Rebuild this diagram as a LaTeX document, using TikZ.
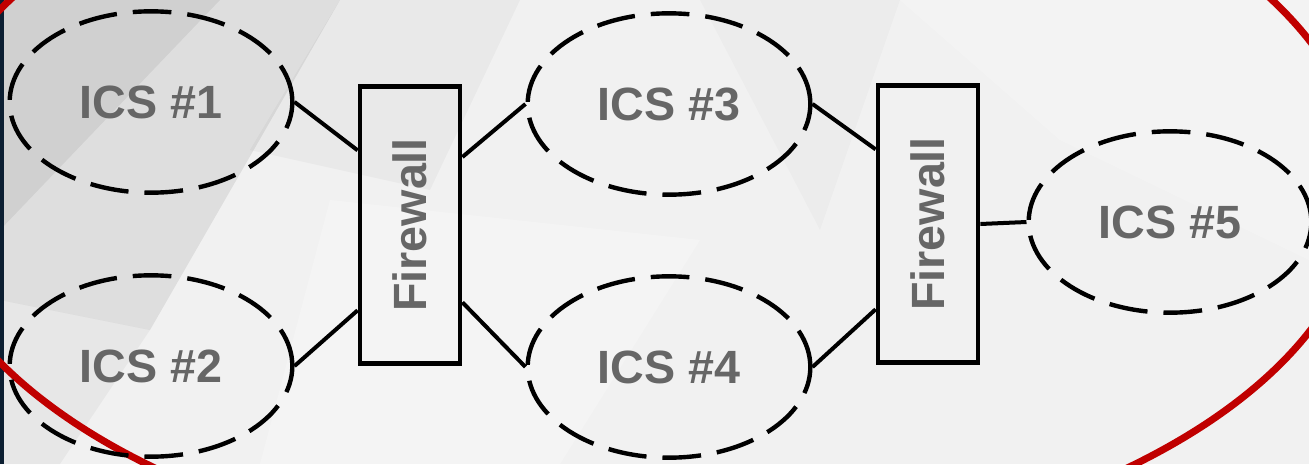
\documentclass[tikz,border=0pt]{standalone}
\usepackage{fontspec}
\setmainfont{Liberation Sans}
\usetikzlibrary{shapes.geometric}
\definecolor{lbl}{RGB}{102,102,102}
\definecolor{ring}{RGB}{192,0,0}
\definecolor{navy}{RGB}{12,31,50}
\definecolor{bg}{RGB}{241,241,241}

\begin{document}
\begin{tikzpicture}[x=0.75pt,y=0.75pt,yscale=-1,xscale=1,
  ics/.style={ellipse, draw, line width=3.3pt, dash pattern=on 29pt off 12pt,
    minimum width=212pt, minimum height=136pt, inner sep=0pt,
    text=lbl, font=\bfseries\fontsize{35}{42}\selectfont},
  wall/.style={rectangle, draw, line width=3.6pt, minimum width=75pt,
    minimum height=208pt, inner sep=0pt,
    text=lbl, font=\bfseries\fontsize{35}{42}\selectfont},
  link/.style={line width=3pt}]
\useasboundingbox (0,0) rectangle (1309,464);
\clip (0,0) rectangle (1309,464);
% background and its facets
\fill[bg] (0,0) rectangle (1309,464);
\fill[black,opacity=0.08] (0,0) -- (340,0) -- (150,330) -- (0,300) -- cycle;
\fill[black,opacity=0.06] (0,0) -- (220,0) -- (0,230) -- cycle;
\fill[black,opacity=0.04] (0,300) -- (150,330) -- (60,464) -- (0,464) -- cycle;
\fill[black,opacity=0.03] (340,0) -- (520,0) -- (430,190) -- (250,150) -- cycle;
\fill[white,opacity=0.25] (330,200) -- (700,240) -- (560,464) -- (260,464) -- cycle;
\fill[white,opacity=0.20] (900,0) -- (1309,0) -- (1309,260) -- (1060,140) -- cycle;
\fill[black,opacity=0.02] (700,0) -- (900,0) -- (820,230) -- cycle;
\fill[navy] (0,0) rectangle (4,464);
% red ring
\draw[ring, line width=5.3pt] (641,186) ellipse [x radius=723, y radius=381];
% nodes
\node[ics] (ics1) at (151,102) {ICS \#1};
\node[ics] (ics2) at (151,366) {ICS \#2};
\node[ics] (ics3) at (669,104) {ICS \#3};
\node[ics] (ics4) at (669,367) {ICS \#4};
\node[ics] (ics5) at (1170,222) {ICS \#5};
\node[wall] (fw1) at (410,225) {\rotatebox{90}{Firewall}};
\node[wall] (fw2) at (928,224) {\rotatebox{90}{Firewall}};
% links
\draw[link] (ics1.east) -- ([yshift=-56pt]fw1.west);
\draw[link] (ics2.east) -- ([yshift=64pt]fw1.west);
\draw[link] ([yshift=-51pt]fw1.east) -- (ics3.west);
\draw[link] ([yshift=58pt]fw1.east) -- (ics4.west);
\draw[link] (ics3.east) -- ([yshift=-56pt]fw2.west);
\draw[link] (ics4.east) -- ([yshift=64pt]fw2.west);
\draw[link] (fw2.east) -- (ics5.west);
\end{tikzpicture}
\end{document}
